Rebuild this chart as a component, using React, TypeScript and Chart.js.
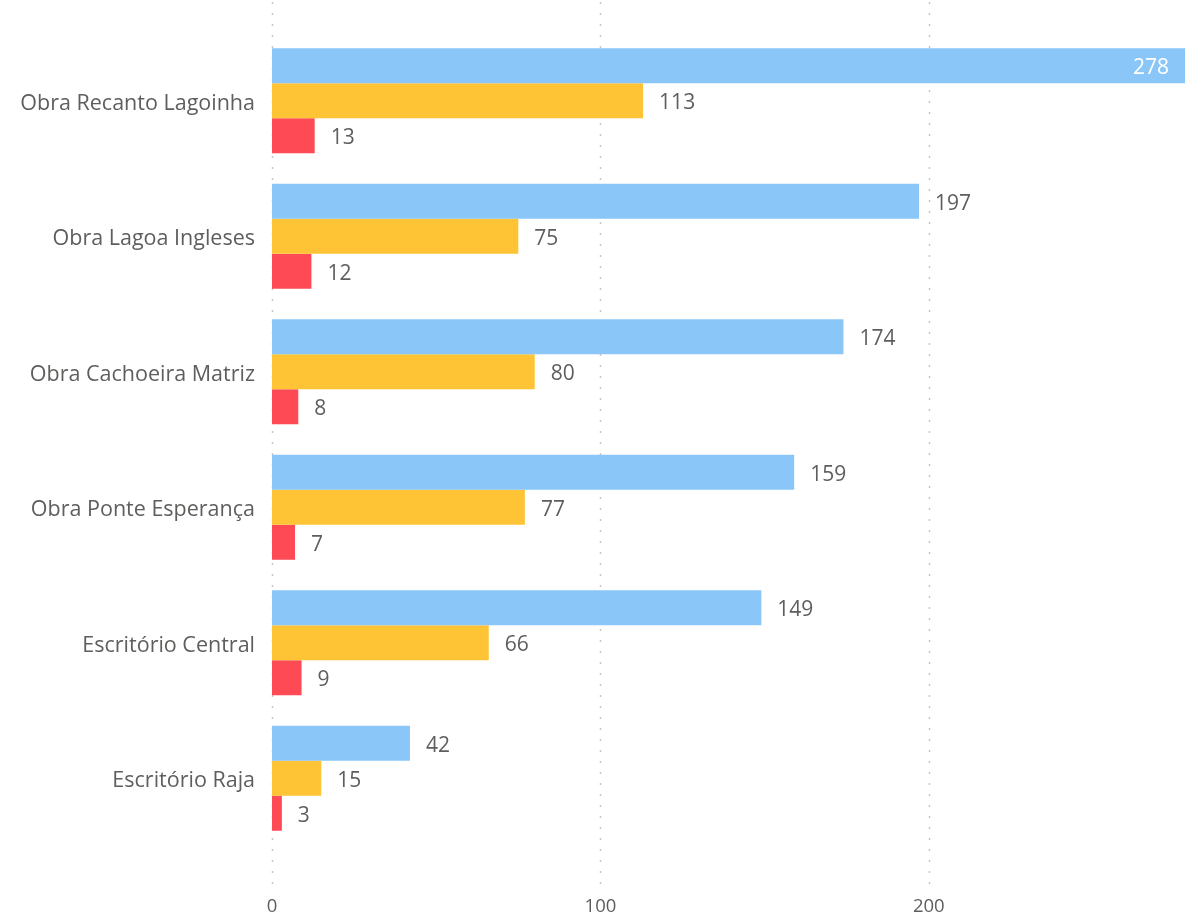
import React, { useEffect, useRef } from "react";
import { Chart, registerables } from "chart.js";

Chart.register(...registerables);

const categories = [
  "Obra Recanto Lagoinha",
  "Obra Lagoa Ingleses",
  "Obra Cachoeira Matriz",
  "Obra Ponte Esperança",
  "Escritório Central",
  "Escritório Raja",
];
const seriesBlue = [278, 197, 174, 159, 149, 42];
const seriesYellow = [113, 75, 80, 77, 66, 15];
const seriesRed = [13, 12, 8, 7, 9, 3];
const xTicks = [0, 100, 200];
const xMax = 278;

const FONT = "'Open Sans', 'Noto Sans', sans-serif";
const TEXT = "#605E5C";

const gridPlugin = {
  id: "dottedGrid",
  beforeDatasetsDraw(chart: any) {
    const { ctx } = chart;
    const xs = chart.scales.x;
    ctx.save();
    ctx.strokeStyle = "#C8C6C4";
    ctx.lineWidth = 1.5;
    ctx.setLineDash([2, 9]);
    xTicks.forEach((v) => {
      const px = Math.round(xs.getPixelForValue(v)) + 0.5;
      ctx.beginPath();
      ctx.moveTo(px, 2);
      ctx.lineTo(px, chart.chartArea.bottom + 42);
      ctx.stroke();
    });
    ctx.restore();
  },
};

const labelPlugin = {
  id: "valueLabels",
  afterDatasetsDraw(chart: any) {
    const { ctx } = chart;
    ctx.save();
    ctx.font = `21px ${FONT}`;
    ctx.textBaseline = "middle";
    chart.data.datasets.forEach((ds: any, di: number) => {
      const meta = chart.getDatasetMeta(di);
      meta.data.forEach((bar: any, i: number) => {
        const v = ds.data[i];
        const txt = String(v);
        const w = ctx.measureText(txt).width;
        if (bar.x + 16 + w > chart.width - 2) {
          ctx.fillStyle = "#FFFFFF";
          ctx.textAlign = "right";
          ctx.fillText(txt, bar.x - 16, bar.y + 2.5);
        } else {
          ctx.fillStyle = TEXT;
          ctx.textAlign = "left";
          ctx.fillText(txt, bar.x + 16, bar.y + 2.5);
        }
      });
    });
    ctx.restore();
  },
};

export default function App() {
  const ref = useRef<HTMLCanvasElement | null>(null);

  useEffect(() => {
    document.body.style.margin = "0";
    if (!ref.current) return;
    const chart = new Chart(ref.current, {
      type: "bar",
      data: {
        labels: categories,
        datasets: [
          { label: "Série 1", data: seriesBlue, backgroundColor: "#8AC6F7" },
          { label: "Série 2", data: seriesYellow, backgroundColor: "#FFC336" },
          { label: "Série 3", data: seriesRed, backgroundColor: "#FD4A55" },
        ],
      },
      options: {
        indexAxis: "y",
        animation: false,
        responsive: false,
        maintainAspectRatio: false,
        layout: { padding: { top: 33, right: 17, left: 0, bottom: 0 } },
        datasets: {
          bar: { categoryPercentage: 0.775, barPercentage: 1, borderWidth: 0 },
        },
        plugins: {
          legend: { display: false },
          tooltip: { enabled: false },
        },
        scales: {
          x: {
            type: "linear",
            min: 0,
            max: xMax,
            grid: { display: false, drawTicks: false },
            border: { display: false },
            afterBuildTicks: (scale: any) => {
              scale.ticks = xTicks.map((v) => ({ value: v }));
            },
            afterFit: (scale: any) => {
              scale.height = 69;
            },
            ticks: {
              padding: 50,
              color: TEXT,
              font: { family: FONT, size: 18.5 },
            },
          },
          y: {
            type: "category",
            grid: { display: false, drawTicks: false },
            border: { display: false },
            afterFit: (scale: any) => {
              scale.width = 272;
            },
            ticks: {
              padding: 17,
              labelOffset: 3,
              color: TEXT,
              font: { family: FONT, size: 21.5 },
            },
          },
        },
      },
      plugins: [gridPlugin, labelPlugin],
    });
    return () => chart.destroy();
  }, []);

  return (
    <div style={{ width: 1202, height: 915, background: "#fff" }}>
      <canvas ref={ref} width={1202} height={915} style={{ display: "block" }} />
    </div>
  );
}
